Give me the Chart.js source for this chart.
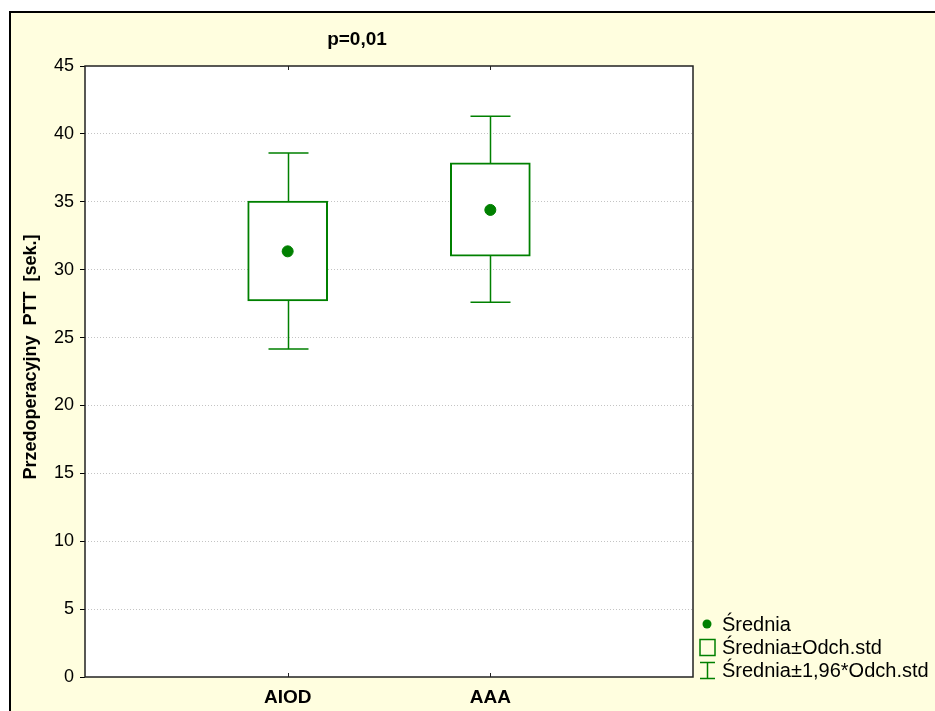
<!DOCTYPE html>
<html>
<head>
<meta charset="utf-8">
<script src="https://cdn.jsdelivr.net/npm/chart.js@4"></script>
<style>
  html, body { margin: 0; padding: 0; background: #fff; }
  #wrap { width: 935px; height: 711px; }
</style>
</head>
<body>
<div id="wrap"><canvas id="myChart" width="935" height="711"></canvas></div>
<script>
// dane
const categories = ["AIOD", "AAA"];
const srednia = [31.35, 34.4];
const sdDol = [27.7, 31.0];
const sdGora = [35.05, 37.87];
const ciDol = [24.15, 27.6];
const ciGora = [38.6, 41.3];
const yTicks = [0, 5, 10, 15, 20, 25, 30, 35, 40, 45];

const zielony = "#008000";
const font = "Liberation Sans, Arial, sans-serif";

// etykiety osi X z pustymi miejscami po bokach (kategorie na 1/3 i 2/3)
const labels = ["", ...categories, ""];

// tlo, ramka, wasy, legenda
const rysuj = {
  id: "rysuj",
  beforeDraw(chart) {
    const c = chart.ctx;
    const a = chart.chartArea;
    c.save();
    c.fillStyle = "#fff";
    c.fillRect(0, 0, chart.width, chart.height);
    c.fillStyle = "#FFFEDF";
    c.fillRect(9, 11, chart.width - 9, chart.height - 11);
    c.strokeStyle = "#000";
    c.lineWidth = 2;
    c.beginPath();
    c.moveTo(10, chart.height);
    c.lineTo(10, 12);
    c.lineTo(chart.width, 12);
    c.stroke();
    c.fillStyle = "#fff";
    c.fillRect(a.left, a.top, a.right - a.left, a.bottom - a.top);
    c.restore();
  },
  beforeDatasetsDraw(chart) {
    const c = chart.ctx;
    const x = chart.scales.x;
    const y = chart.scales.y;
    c.save();
    c.strokeStyle = zielony;
    c.lineWidth = 1.5;
    categories.forEach((cat, i) => {
      const px = Math.round(x.getPixelForValue(i + 1)) + 0.5;
      const yl = y.getPixelForValue(ciDol[i]);
      const yh = y.getPixelForValue(ciGora[i]);
      c.beginPath();
      c.moveTo(px, yl);
      c.lineTo(px, yh);
      c.moveTo(px - 20, yl);
      c.lineTo(px + 20, yl);
      c.moveTo(px - 20, yh);
      c.lineTo(px + 20, yh);
      c.stroke();
    });
    c.restore();
  },
  afterDraw(chart) {
    const c = chart.ctx;
    const a = chart.chartArea;
    const x = chart.scales.x;
    c.save();
    // ramka obszaru wykresu
    c.strokeStyle = "#222";
    c.lineWidth = 1.5;
    c.strokeRect(a.left, a.top, a.right - a.left, a.bottom - a.top);
    // male kreski kategorii
    c.lineWidth = 1;
    categories.forEach((cat, i) => {
      const px = Math.round(x.getPixelForValue(i + 1)) + 0.5;
      c.beginPath();
      c.moveTo(px, a.top);
      c.lineTo(px, a.top + 4);
      c.moveTo(px, a.bottom);
      c.lineTo(px, a.bottom - 4);
      c.stroke();
    });
    // tytul
    c.fillStyle = "#000";
    c.font = "bold 19px " + font;
    c.textAlign = "center";
    c.textBaseline = "middle";
    c.fillText("p=0,01", 357, 40);
    // opis osi Y
    c.save();
    c.translate(31, 357);
    c.rotate(-Math.PI / 2);
    c.font = "bold 18px " + font;
    c.fillText("Przedoperacyjny  PTT  [sek.]", 0, 0);
    c.restore();
    // legenda
    const lx = a.right + 6;
    c.font = "20px " + font;
    c.textAlign = "left";
    c.fillStyle = zielony;
    c.beginPath();
    c.arc(lx + 8, 624, 4.5, 0, Math.PI * 2);
    c.fill();
    c.strokeStyle = zielony;
    c.lineWidth = 1.5;
    c.strokeRect(lx + 1, 639.5, 15, 16);
    c.beginPath();
    c.moveTo(lx + 1, 662.5);
    c.lineTo(lx + 16, 662.5);
    c.moveTo(lx + 8.5, 662.5);
    c.lineTo(lx + 8.5, 678.5);
    c.moveTo(lx + 1, 678.5);
    c.lineTo(lx + 16, 678.5);
    c.stroke();
    c.fillStyle = "#000";
    c.fillText("Średnia", lx + 23, 625);
    c.fillText("Średnia±Odch.std", lx + 23, 648);
    c.fillText("Średnia±1,96*Odch.std", lx + 23, 671);
    c.restore();
  },
};

const ctx = document.getElementById("myChart");
new Chart(ctx, {
  data: {
    labels: labels,
    datasets: [
      {
        type: "line",
        label: "Średnia",
        data: [null, ...srednia, null],
        showLine: false,
        pointRadius: 5.5,
        pointHoverRadius: 5.5,
        pointBackgroundColor: zielony,
        pointBorderColor: zielony,
        order: 0,
      },
      {
        type: "bar",
        label: "Średnia±Odch.std",
        data: [null, ...categories.map((c, i) => [sdDol[i], sdGora[i]]), null],
        backgroundColor: "#fff",
        borderColor: zielony,
        borderWidth: 2,
        borderSkipped: false,
        barThickness: 80,
        grouped: false,
        order: 1,
      },
    ],
  },
  options: {
    responsive: false,
    animation: false,
    events: [],
    layout: { padding: { left: 0, top: 66, right: 242, bottom: 0 } },
    plugins: {
      legend: { display: false },
      tooltip: { enabled: false },
    },
    scales: {
      x: {
        type: "category",
        offset: false,
        grid: { display: false, drawTicks: false },
        border: { display: false },
        ticks: {
          color: "#000",
          font: { family: font, size: 19, weight: "bold" },
          padding: 9,
          maxRotation: 0,
          autoSkip: false,
        },
        afterFit(scale) {
          scale.height = 34;
        },
      },
      y: {
        min: 0,
        max: 45,
        afterBuildTicks(scale) {
          scale.ticks = yTicks.map((v) => ({ value: v }));
        },
        grid: {
          color: (c) =>
            c.tick && (c.tick.value === 0 || c.tick.value === 45) ? "rgba(0,0,0,0)" : "#c4c4c4",
          tickColor: "#000",
          tickLength: 5,
          tickBorderDash: [],
        },
        border: { display: false, dash: [1, 2] },
        ticks: {
          color: "#000",
          font: { family: font, size: 18 },
          padding: 6,
        },
        afterFit(scale) {
          scale.width = 85;
        },
      },
    },
  },
  plugins: [rysuj],
});
</script>
</body>
</html>
